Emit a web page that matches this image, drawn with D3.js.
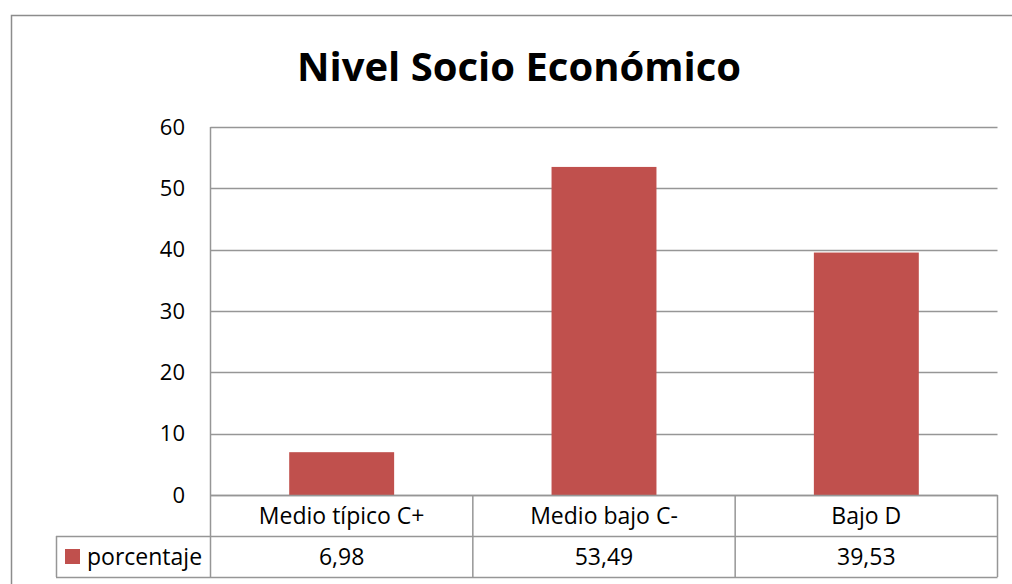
<!DOCTYPE html>
<html><head><meta charset="utf-8">
<script src="https://cdn.jsdelivr.net/npm/d3@7"></script>
<style>body{margin:0;background:#fff}svg{display:block}</style>
</head><body>
<script>
const categories = ["Medio típico C+", "Medio bajo C-", "Bajo D"];
const values = [6.98, 53.49, 39.53];
const valueLabels = ["6,98", "53,49", "39,53"];
const seriesName = "porcentaje";
const yTicks = [0, 10, 20, 30, 40, 50, 60];
const title = "Nivel Socio Económico";

(function () {
const W = 1012, H = 584;
const font = "'Open Sans', sans-serif";
const svg = d3.select("body").append("svg").attr("width", W).attr("height", H);

svg.append("rect").attr("x", 11.5).attr("y", 15.5).attr("width", 1010).attr("height", 600)
  .attr("fill", "none").attr("stroke", "#8c8c8c").attr("stroke-width", 1.5);

const pLeft = 210.5, pRight = 997.5, pTop = 127, pBottom = 495;
const x = d3.scaleBand().domain(categories).range([pLeft, pRight]).paddingInner(0.6).paddingOuter(0.3);
const xCell = d3.scaleBand().domain(categories).range([pLeft, pRight]);
const y = d3.scaleLinear().domain([0, 60]).range([pBottom, pTop]);

svg.append("text").attr("x", 519).attr("y", 81).attr("text-anchor", "middle")
  .attr("font-family", font).attr("font-weight", "bold").attr("font-size", 40)
  .attr("fill", "#000").text(title);

svg.append("g").selectAll("line").data(yTicks).join("line")
  .attr("x1", pLeft).attr("x2", pRight).attr("y1", d => Math.round(y(d)) + 0.5).attr("y2", d => Math.round(y(d)) + 0.5)
  .attr("stroke", "#969696").attr("stroke-width", 1.5);
svg.append("line").attr("x1", pLeft).attr("x2", pLeft).attr("y1", pTop).attr("y2", pBottom)
  .attr("stroke", "#969696").attr("stroke-width", 1.5);

svg.append("g").selectAll("text").data(yTicks).join("text")
  .attr("x", 185).attr("y", d => y(d)).attr("dy", "0.35em").attr("text-anchor", "end")
  .attr("font-family", font).attr("font-size", 22).attr("fill", "#000").text(d => d);

svg.append("g").selectAll("rect").data(values).join("rect")
  .attr("x", (d, i) => x(categories[i])).attr("width", x.bandwidth())
  .attr("y", d => y(d)).attr("height", d => y(0) - y(d))
  .attr("fill", "#C0504D");

const r1 = 495, r2 = 536, r3 = 577;
const tbl = svg.append("g").attr("stroke", "#969696").attr("stroke-width", 1.5).attr("fill", "none");
tbl.append("line").attr("x1", pLeft).attr("x2", pRight).attr("y1", r1 + 0.5).attr("y2", r1 + 0.5);
tbl.append("line").attr("x1", 56).attr("x2", pRight).attr("y1", r2 + 0.5).attr("y2", r2 + 0.5);
tbl.append("line").attr("x1", 56).attr("x2", pRight).attr("y1", r3 + 0.5).attr("y2", r3 + 0.5);
tbl.append("line").attr("x1", 56.5).attr("x2", 56.5).attr("y1", r2).attr("y2", r3);
tbl.selectAll(".v").data(categories.concat(["end"])).join("line")
  .attr("x1", (d, i) => i < categories.length ? xCell(d) : pRight)
  .attr("x2", (d, i) => i < categories.length ? xCell(d) : pRight)
  .attr("y1", r1).attr("y2", r3);

svg.append("g").selectAll("text").data(categories).join("text")
  .attr("x", d => xCell(d) + xCell.bandwidth() / 2).attr("y", (r1 + r2) / 2).attr("dy", "0.35em")
  .attr("text-anchor", "middle").attr("font-family", font).attr("font-size", 23).attr("fill", "#000").text(d => d);
svg.append("g").selectAll("text").data(valueLabels).join("text")
  .attr("x", (d, i) => xCell(categories[i]) + xCell.bandwidth() / 2).attr("y", (r2 + r3) / 2).attr("dy", "0.35em")
  .attr("text-anchor", "middle").attr("font-family", font).attr("font-size", 23).attr("fill", "#000").text(d => d);

svg.append("rect").attr("x", 65).attr("y", 549).attr("width", 15).attr("height", 15).attr("fill", "#C0504D");
svg.append("text").attr("x", 87).attr("y", (r2 + r3) / 2).attr("dy", "0.35em")
  .attr("font-family", font).attr("font-size", 23).attr("fill", "#000").text(seriesName);
})();
</script>
</body></html>
